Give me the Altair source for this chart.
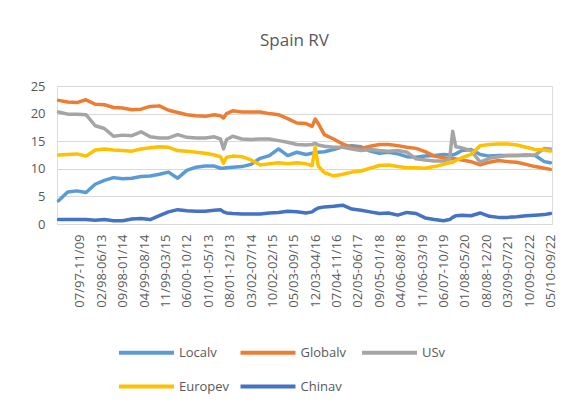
import json
import altair as alt
import pandas as pd

# category index of each sampled point (0 = first monthly window)
idx = [0, 3, 6, 9, 12, 15, 18, 21, 24, 27, 30, 33, 36, 39, 42, 45, 48, 51, 53, 54, 55,
       57, 60, 63, 66, 69, 72, 75, 78, 81, 83, 84, 85, 87, 90, 93, 96, 99, 102, 105,
       108, 111, 114, 117, 120, 123, 126, 128, 129, 130, 132, 135, 138, 141, 144, 147,
       150, 153, 156, 159, 161]

localv = [4.2, 5.8, 6.0, 5.7, 7.2, 7.9, 8.4, 8.2, 8.3, 8.6, 8.7, 9.0, 9.4, 8.3, 9.7, 10.3,
          10.5, 10.5, 10.1, 10.1, 10.2, 10.3, 10.4, 10.8, 11.9, 12.4, 13.6, 12.4, 13.0, 12.6,
          12.8, 13.0, 13.0, 13.1, 13.5, 14.0, 14.2, 14.0, 13.2, 12.8, 13.0, 12.7, 12.2, 12.1,
          12.3, 12.4, 12.6, 12.5, 12.5, 12.7, 13.3, 13.5, 12.6, 12.3, 12.4, 12.4, 12.4, 12.5,
          12.4, 11.3, 11.1]

globalv = [22.4, 22.1, 22.0, 22.5, 21.7, 21.6, 21.1, 21.0, 20.7, 20.8, 21.3, 21.4, 20.6, 20.2,
           19.8, 19.6, 19.5, 19.8, 19.6, 19.2, 20.0, 20.5, 20.3, 20.3, 20.3, 20.0, 19.8, 19.1,
           18.3, 18.2, 17.7, 19.0, 18.2, 16.2, 15.4, 14.5, 13.8, 13.7, 14.1, 14.4, 14.4, 14.2,
           13.9, 13.7, 13.1, 12.3, 12.0, 11.8, 11.8, 11.8, 11.6, 11.3, 10.7, 11.2, 11.5, 11.3,
           11.2, 10.8, 10.4, 10.1, 9.9]

usv = [20.3, 19.9, 19.9, 19.8, 17.8, 17.3, 15.9, 16.1, 16.0, 16.7, 15.8, 15.6, 15.6, 16.2,
       15.7, 15.6, 15.6, 15.8, 15.4, 13.6, 15.3, 15.9, 15.4, 15.3, 15.4, 15.4, 15.1, 14.8,
       14.4, 14.3, 14.4, 14.6, 14.3, 14.1, 13.9, 13.9, 13.6, 13.3, 13.5, 13.3, 13.2, 13.3,
       13.0, 11.8, 11.6, 11.4, 11.4, 11.8, 16.8, 14.0, 13.8, 13.3, 11.2, 11.9, 12.2, 12.4,
       12.4, 12.4, 12.5, 13.7, 13.6]

europev = [12.5, 12.6, 12.7, 12.3, 13.4, 13.6, 13.4, 13.3, 13.2, 13.6, 13.8, 14.0, 13.9, 13.3,
           13.2, 13.0, 12.8, 12.5, 12.2, 11.0, 12.1, 12.3, 12.2, 11.6, 10.7, 10.9, 11.1, 10.9,
           11.1, 10.9, 10.6, 13.9, 10.5, 9.3, 8.7, 9.0, 9.4, 9.6, 10.1, 10.6, 10.7, 10.4, 10.2,
           10.2, 10.1, 10.4, 10.8, 11.1, 11.2, 11.5, 12.0, 12.6, 14.2, 14.4, 14.5, 14.5, 14.3,
           13.9, 13.5, 13.4, 13.2]

chinav = [0.8, 0.8, 0.8, 0.8, 0.7, 0.8, 0.6, 0.6, 0.9, 1.0, 0.8, 1.5, 2.2, 2.6, 2.4, 2.3, 2.3,
          2.5, 2.6, 2.2, 2.0, 1.9, 1.8, 1.8, 1.8, 2.0, 2.1, 2.3, 2.2, 2.0, 2.2, 2.6, 2.9, 3.1,
          3.2, 3.4, 2.7, 2.5, 2.2, 1.9, 2.0, 1.6, 2.1, 1.9, 1.1, 0.8, 0.6, 0.8, 1.2, 1.5, 1.6,
          1.5, 2.0, 1.4, 1.2, 1.2, 1.3, 1.5, 1.6, 1.7, 1.9]

series_names = ["Localv", "Globalv", "USv", "Europev", "Chinav"]
series_colors = ["#5B9BD5", "#ED7D31", "#A5A5A5", "#FFC000", "#4472C4"]

tick_idx = [7, 14, 21, 28, 35, 42, 49, 56, 63, 70, 77, 84, 91, 98, 105, 112, 119, 126,
            133, 140, 147, 154, 161]
tick_labels = ["07/97-11/09", "02/98-06/13", "09/98-01/14", "04/99-08/14", "11/99-03/15",
               "06/00-10/12", "01/01-05/13", "08/01-12/13", "03/02-07/14", "10/02-02/15",
               "05/03-09/15", "12/03-04/16", "07/04-11/16", "02/05-06/17", "09/05-01/18",
               "04/06-08/18", "11/06-03/19", "06/07-10/19", "01/08-05/20", "08/08-12/20",
               "03/09-07/21", "10/09-02/22", "05/10-09/22"]

rows = []
for name, vals in zip(series_names, [localv, globalv, usv, europev, chinav]):
    for i, v in zip(idx, vals):
        rows.append({"series": name, "idx": i, "value": v})
df = pd.DataFrame(rows)

label_expr = (
    "indexof(" + json.dumps(tick_idx) + ", datum.value) >= 0 ? "
    + json.dumps(tick_labels) + "[indexof(" + json.dumps(tick_idx) + ", datum.value)] : ''"
)

FONT = "Open Sans"
GRAY = "#595959"

chart = alt.Chart(df).mark_line(strokeWidth=3.5, strokeCap="round", strokeJoin="round").encode(
    x=alt.X("idx:Q",
            scale=alt.Scale(domain=[-0.5, 161.5], nice=False, zero=False),
            axis=alt.Axis(values=tick_idx, labelExpr=label_expr, labelAngle=-90,
                          title=None, grid=False, ticks=False, domain=False,
                          labelFont=FONT, labelFontSize=13, labelColor=GRAY,
                          labelPadding=10, labelOverlap=False, labelBound=False,
                          labelFlush=False)),
    y=alt.Y("value:Q",
            scale=alt.Scale(domain=[0, 25], nice=False),
            axis=alt.Axis(values=[0, 5, 10, 15, 20, 25], title=None, ticks=False,
                          domain=False, gridColor="#D9D9D9", gridWidth=1,
                          labelFont=FONT, labelFontSize=13, labelColor=GRAY,
                          labelPadding=12)),
    color=alt.Color("series:N",
                    scale=alt.Scale(domain=series_names, range=series_colors),
                    sort=series_names,
                    legend=alt.Legend(title=None, orient="none", legendX=78, legendY=255,
                                      direction="horizontal", columns=3,
                                      symbolType="M-3,0H3", symbolSize=336,
                                      symbolStrokeWidth=4, labelFont=FONT,
                                      labelFontSize=13, labelColor=GRAY,
                                      labelOffset=21, columnPadding=2.5, rowPadding=14,
                                      gridAlign="all")),
    order=alt.Order("idx:Q"),
).properties(
    width=495,
    height=138,
    title=alt.TitleParams("Spain RV", font=FONT, fontSize=17, fontWeight="normal",
                          color=GRAY, anchor="middle", offset=30, dx=-10),
    autosize=alt.AutoSizeParams(type="none"),
    padding={"left": 49, "top": 78, "right": 16, "bottom": 180},
).configure_view(stroke=None).configure(background="white")

chart.save("out.html", embed_options={"renderer": "svg", "actions": False})
